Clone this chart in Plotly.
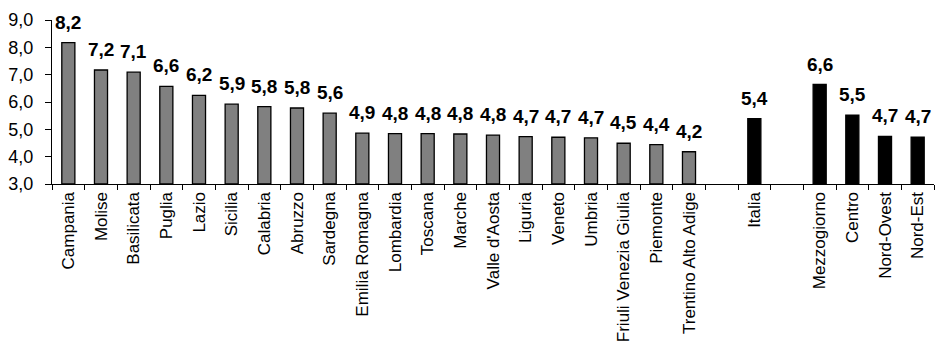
import plotly.graph_objects as go

regions = ["Campania", "Molise", "Basilicata", "Puglia", "Lazio", "Sicilia", "Calabria",
           "Abruzzo", "Sardegna", "Emilia Romagna", "Lombardia", "Toscana", "Marche",
           "Valle d'Aosta", "Liguria", "Veneto", "Umbria", "Friuli Venezia Giulia",
           "Piemonte", "Trentino Alto Adige"]
region_values = [8.17, 7.17, 7.09, 6.57, 6.24, 5.92, 5.83, 5.78, 5.59, 4.86, 4.84, 4.84,
                 4.83, 4.79, 4.73, 4.71, 4.69, 4.49, 4.44, 4.18]

areas = ["Italia", "Mezzogiorno", "Centro", "Nord-Ovest", "Nord-Est"]
area_values = [5.39, 6.64, 5.52, 4.74, 4.71]

gap1 = " "
gap2 = "  "
categories = regions + [gap1, "Italia", gap2, "Mezzogiorno", "Centro", "Nord-Ovest", "Nord-Est"]
y_ticks = [3, 4, 5, 6, 7, 8, 9]


def fmt(v):
    return f"{v:.1f}".replace(".", ",")


fig = go.Figure()
fig.add_trace(go.Bar(
    x=regions, y=[v - 3 for v in region_values], base=3,
    marker=dict(color="#808080", line=dict(color="black", width=1.3)),
    width=0.4, hoverinfo="skip",
))
fig.add_trace(go.Bar(
    x=areas, y=[v - 3 for v in area_values], base=3,
    marker=dict(color="black", line=dict(color="black", width=1.3)),
    width=0.4, hoverinfo="skip",
))

for c, v in list(zip(regions, region_values)) + list(zip(areas, area_values)):
    fig.add_annotation(x=c, y=v, text=fmt(v), showarrow=False, yanchor="bottom",
                       yshift=8, font=dict(family="Liberation Sans, Arial",
                                          size=19, color="black", weight="bold"))

fig.update_layout(
    width=948, height=356,
    margin=dict(l=52, r=14, t=20, b=172, autoexpand=False),
    paper_bgcolor="white", plot_bgcolor="white",
    showlegend=False, barmode="overlay",
    separators=",.",
    font=dict(family="Liberation Sans, Arial", size=17, color="black"),
)
fig.update_xaxes(
    type="category", categoryorder="array", categoryarray=categories,
    range=[-0.5, len(categories) - 0.5], automargin=False,
    showline=True, linecolor="black", linewidth=1.3,
    ticks="outside", tickson="boundaries", ticklen=5, tickcolor="black", tickwidth=1.3,
    tickangle=-90, tickfont=dict(size=17), showgrid=False,
)
fig.update_yaxes(
    range=[3, 9], tickvals=y_ticks, tickformat=".1f", automargin=False,
    showline=True, linecolor="black", linewidth=1.3,
    ticks="outside", ticklen=6, tickcolor="black", tickwidth=1.3, ticklabelstandoff=8,
    tickfont=dict(size=18), showgrid=False, zeroline=False,
)

fig.write_html("out.html", config={"displayModeBar": False},
               post_script="document.body.style.margin='0';document.body.style.overflow='hidden';")
